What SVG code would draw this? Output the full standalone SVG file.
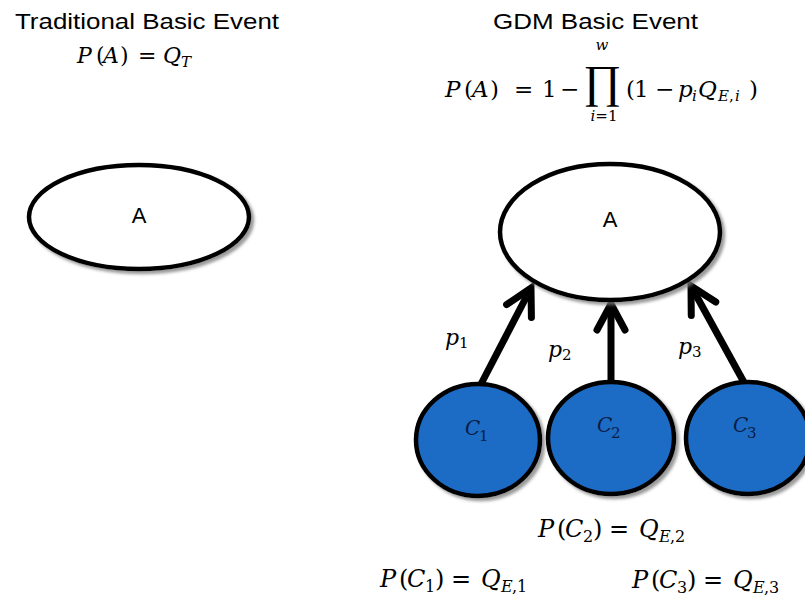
<svg xmlns="http://www.w3.org/2000/svg" width="805" height="596" viewBox="0 0 805 596">
  <style>
    .title { font-family: "Liberation Sans", Arial, sans-serif; font-size: 22px; fill: #000; }
    .lbl { font-family: "Liberation Sans", Arial, sans-serif; font-size: 22px; fill: #000; text-anchor: middle; }
    .m { font-family: "DejaVu Serif", "Liberation Serif", serif; fill: #000; }
    .big { font-family: "Liberation Serif", "DejaVu Serif", serif; fill: #000; }
    .it { font-style: italic; }
    .node-white { fill: #fff; stroke: #000; stroke-width: 4.5; }
    .node-blue { fill: #1f6cc6; stroke: #000; stroke-width: 4.5; }
    .cl { font-family: "DejaVu Serif", "Liberation Serif", serif; font-style: italic; fill: #0b1c45; }
    .edge { stroke: #000; stroke-width: 7; fill: none; }
  </style>
  <defs>
    <filter id="shadow" x="-10%" y="-10%" width="130%" height="130%">
      <feGaussianBlur in="SourceAlpha" stdDeviation="1.5"/>
      <feOffset dx="3" dy="3" result="o"/>
      <feFlood flood-color="#7a7a7a" flood-opacity="0.75"/>
      <feComposite in2="o" operator="in"/>
      <feMerge>
        <feMergeNode/>
        <feMergeNode in="SourceGraphic"/>
      </feMerge>
    </filter>
    <marker id="head" markerUnits="userSpaceOnUse" viewBox="-40 -25 50 50" markerWidth="50" markerHeight="50" refX="0" refY="0" orient="auto">
      <path d="M -26,-14 L 0,0 L -26,14" fill="none" stroke="#000" stroke-width="7" stroke-linecap="round" stroke-linejoin="miter"/>
    </marker>
  </defs>

  <!-- headings -->
  <text class="title" x="15" y="29" textLength="264" lengthAdjust="spacingAndGlyphs">Traditional Basic Event</text>
  <text class="title" x="493" y="29" textLength="205" lengthAdjust="spacingAndGlyphs">GDM Basic Event</text>

  <!-- P(A) = Q_T -->
  <text class="m" font-size="22" y="63"><tspan class="it" x="77">P</tspan><tspan x="96">(</tspan><tspan class="it" x="103">A</tspan><tspan x="120">)</tspan><tspan x="138">=</tspan><tspan class="it" x="163">Q</tspan><tspan class="it" x="181" dy="4" font-size="15">T</tspan></text>

  <!-- P(A) = 1 - prod_{i=1}^{w} (1 - p_i Q_{E,i}) -->
  <text class="m" font-size="23" y="97"><tspan class="it" x="445">P</tspan><tspan x="464">(</tspan><tspan class="it" x="472">A</tspan><tspan x="490">)</tspan><tspan x="514">=</tspan><tspan x="542">1</tspan><tspan x="560">−</tspan><tspan x="626">(</tspan><tspan x="634">1</tspan><tspan x="655">−</tspan><tspan class="it" x="678">p</tspan><tspan class="it" x="692" dy="4" font-size="15">i</tspan><tspan class="it" x="698" dy="-4">Q</tspan><tspan class="it" x="718" dy="4" font-size="15">E</tspan><tspan x="729" font-size="15">,</tspan><tspan class="it" x="735" font-size="15">i</tspan><tspan x="749" dy="-4">)</tspan></text>
  <text class="big" font-size="46" x="602" y="97" text-anchor="middle">∏</text>
  <text class="m it" font-size="15" x="602" y="50" text-anchor="middle">w</text>
  <text class="m" font-size="15" x="604" y="121" text-anchor="middle"><tspan class="it">i</tspan>=1</text>

  <!-- connectors -->
  <g id="edges">
    <line class="edge" x1="480" y1="386" x2="531" y2="288" marker-end="url(#head)"/>
    <line class="edge" x1="611" y1="386" x2="611" y2="304" marker-end="url(#head)"/>
    <line class="edge" x1="746" y1="386" x2="691" y2="286" marker-end="url(#head)"/>
  </g>

  <!-- edge weights -->
  <text class="m it" font-size="22" y="345"><tspan x="445">p</tspan><tspan x="459" dy="3" font-size="15" font-style="normal">1</tspan></text>
  <text class="m it" font-size="22" y="357"><tspan x="548">p</tspan><tspan x="562" dy="3" font-size="15" font-style="normal">2</tspan></text>
  <text class="m it" font-size="22" y="354"><tspan x="678">p</tspan><tspan x="692" dy="3" font-size="15" font-style="normal">3</tspan></text>

  <!-- traditional event -->
  <g id="node-A-traditional">
    <ellipse class="node-white" cx="139" cy="217" rx="110" ry="52" filter="url(#shadow)"/>
    <text class="lbl" x="139" y="223">A</text>
  </g>

  <!-- GDM event -->
  <g id="node-A-gdm">
    <ellipse class="node-white" cx="610" cy="232" rx="110" ry="68" filter="url(#shadow)"/>
    <text class="lbl" x="610" y="227">A</text>
  </g>

  <g id="node-C1">
    <ellipse class="node-blue" cx="478" cy="440" rx="62" ry="56" filter="url(#shadow)"/>
    <text class="cl" font-size="20" y="435"><tspan x="465">C</tspan><tspan x="479" dy="6" font-size="15" font-style="normal">1</tspan></text>
  </g>
  <g id="node-C2">
    <ellipse class="node-blue" cx="611" cy="438" rx="63" ry="56" filter="url(#shadow)"/>
    <text class="cl" font-size="20" y="432"><tspan x="597">C</tspan><tspan x="611" dy="6" font-size="15" font-style="normal">2</tspan></text>
  </g>
  <g id="node-C3">
    <ellipse class="node-blue" cx="748" cy="438" rx="62" ry="56" filter="url(#shadow)"/>
    <text class="cl" font-size="20" y="432"><tspan x="733">C</tspan><tspan x="747" dy="6" font-size="15" font-style="normal">3</tspan></text>
  </g>

  <!-- component probabilities -->
  <text class="m" font-size="24" y="537"><tspan class="it" x="538">P</tspan><tspan x="557">(</tspan><tspan class="it" x="565">C</tspan><tspan x="583" dy="5" font-size="16">2</tspan><tspan x="593" dy="-5">)</tspan><tspan x="609">=</tspan><tspan class="it" x="639">Q</tspan><tspan class="it" x="659" dy="5" font-size="16">E</tspan><tspan x="670" font-size="16">,</tspan><tspan x="675" font-size="16">2</tspan></text>
  <text class="m" font-size="24" y="587"><tspan class="it" x="380">P</tspan><tspan x="399">(</tspan><tspan class="it" x="407">C</tspan><tspan x="425" dy="5" font-size="16">1</tspan><tspan x="435" dy="-5">)</tspan><tspan x="451">=</tspan><tspan class="it" x="481">Q</tspan><tspan class="it" x="501" dy="5" font-size="16">E</tspan><tspan x="512" font-size="16">,</tspan><tspan x="517" font-size="16">1</tspan></text>
  <text class="m" font-size="24" y="588"><tspan class="it" x="632">P</tspan><tspan x="651">(</tspan><tspan class="it" x="659">C</tspan><tspan x="677" dy="5" font-size="16">3</tspan><tspan x="687" dy="-5">)</tspan><tspan x="703">=</tspan><tspan class="it" x="733">Q</tspan><tspan class="it" x="753" dy="5" font-size="16">E</tspan><tspan x="764" font-size="16">,</tspan><tspan x="769" font-size="16">3</tspan></text>
</svg>
